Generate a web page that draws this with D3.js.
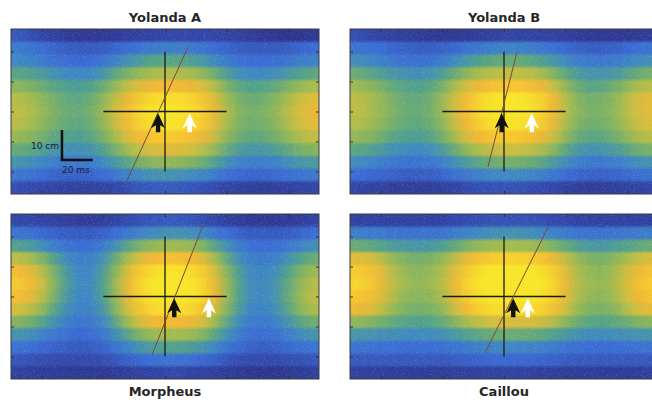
<!DOCTYPE html>
<html>
<head>
<meta charset="utf-8">
<script src="https://cdn.jsdelivr.net/npm/d3@7"></script>
<style>
body { margin: 0; background: #fff; }
svg { display: block; }
text { font-family: "DejaVu Sans", sans-serif; }
</style>
</head>
<body>
<svg id="chart"></svg>
<script>
// panel titles
let panelNames = ['Yolanda A', 'Yolanda B', 'Morpheus', 'Caillou']

// heat values (0 = low, 10 = peak), 13 position rows (top -> bottom) x 25 time bins (-100..100 ms)
let gridYolandaA = [
  [1.5,1.2,1,0.8,0.6,0.5,0.5,0.5,0.6,0.7,0.8,0.9,1,1,1,1,1,0.9,0.8,0.6,0.5,0.4,0.4,0.4,0.5],
  [2.5,2.3,2,1.8,1.6,1.5,1.5,1.6,1.8,2,2.3,2.5,2.6,2.6,2.5,2.3,2,1.8,1.6,1.5,1.5,1.5,1.6,1.8,2],
  [3,2.8,2.5,2.2,2,1.9,2,2.3,2.8,3.3,3.8,4.1,4.2,4.2,4,3.6,3,2.5,2.2,2,2,2.1,2.3,2.6,2.8],
  [4.2,4,3.7,3.3,3,2.9,3,3.5,4.3,5,5.6,6,6.2,6.2,6,5.5,4.7,3.8,3.2,3,3,3.2,3.6,4,4.3],
  [5.3,5,4.6,4.2,3.9,3.8,4,4.6,5.6,6.6,7.4,7.9,8.1,8.1,7.8,7.2,6.2,5,4.3,4,4.1,4.4,5,5.6,6],
  [6.3,6,5.4,4.8,4.4,4.3,4.6,5.4,6.6,7.8,8.8,9.4,9.6,9.6,9.3,8.6,7.3,5.8,4.9,4.6,4.7,5.2,6,6.8,7.3],
  [6.6,6.3,5.6,5,4.6,4.5,4.8,5.7,7,8.3,9.3,9.9,10,10,9.7,9,7.7,6.2,5.2,4.8,5,5.5,6.4,7.3,7.8],
  [6.4,6,5.4,4.8,4.4,4.3,4.6,5.5,6.8,8.1,9.1,9.7,9.9,9.8,9.5,8.8,7.5,6,5,4.7,4.8,5.3,6.2,7,7.5],
  [5.6,5.3,4.8,4.3,4,3.9,4.2,4.9,6,7.2,8.1,8.6,8.8,8.7,8.4,7.8,6.7,5.4,4.6,4.3,4.4,4.8,5.5,6.2,6.6],
  [4.5,4.3,3.9,3.5,3.3,3.2,3.4,4,4.9,5.9,6.7,7.2,7.4,7.3,7,6.4,5.5,4.5,3.8,3.5,3.6,3.9,4.4,4.9,5.2],
  [3.4,3.2,2.9,2.6,2.4,2.4,2.5,3,3.6,4.3,4.9,5.3,5.5,5.4,5.1,4.7,4,3.3,2.8,2.6,2.6,2.8,3.2,3.5,3.7],
  [2.3,2.2,2,1.8,1.7,1.7,1.8,2,2.4,2.8,3.1,3.3,3.4,3.3,3.1,2.9,2.5,2.1,1.9,1.8,1.8,1.9,2.1,2.3,2.4],
  [1.2,1.1,1,0.9,0.8,0.8,0.8,0.9,1,1.2,1.4,1.5,1.5,1.5,1.4,1.3,1.1,0.9,0.8,0.7,0.7,0.7,0.8,0.9,1]
]
let gridYolandaB = [
  [1.2,1,0.9,0.8,0.7,0.6,0.5,0.5,0.5,0.6,0.7,0.8,0.9,0.9,0.9,0.8,0.8,0.7,0.6,0.5,0.5,0.5,0.5,0.6,0.7],
  [2.2,2.1,2,1.8,1.7,1.6,1.6,1.7,1.9,2.2,2.4,2.6,2.7,2.7,2.6,2.4,2.1,1.9,1.7,1.6,1.6,1.7,1.9,2.1,2.2],
  [3.2,3,2.7,2.4,2.2,2.1,2.2,2.5,3,3.5,4,4.3,4.5,4.5,4.3,4,3.5,3,2.6,2.4,2.4,2.5,2.8,3.1,3.3],
  [4.6,4.3,3.9,3.5,3.3,3.2,3.3,3.8,4.6,5.4,6,6.4,6.6,6.6,6.4,6,5.2,4.3,3.7,3.4,3.4,3.6,4.1,4.6,4.9],
  [5.8,5.4,4.9,4.4,4.1,4,4.2,4.9,6,7.1,7.9,8.4,8.6,8.6,8.3,7.8,6.8,5.5,4.6,4.2,4.3,4.7,5.4,6.1,6.5],
  [6.5,6.1,5.5,4.9,4.5,4.4,4.7,5.6,6.9,8.2,9.2,9.8,10,10,9.7,9.1,7.9,6.3,5.2,4.8,4.9,5.4,6.3,7.1,7.5],
  [6.6,6.2,5.6,5,4.6,4.5,4.8,5.7,7,8.3,9.3,9.9,10,10,9.8,9.2,8,6.4,5.3,4.9,5,5.5,6.4,7.2,7.6],
  [6.3,5.9,5.3,4.8,4.4,4.3,4.6,5.4,6.7,8,9,9.6,9.8,9.8,9.5,8.9,7.7,6.1,5.1,4.7,4.8,5.3,6.1,6.9,7.3],
  [5.5,5.2,4.7,4.2,3.9,3.8,4.1,4.8,5.9,7.1,8,8.5,8.7,8.7,8.4,7.8,6.8,5.4,4.5,4.2,4.3,4.7,5.4,6.1,6.4],
  [4.3,4.1,3.7,3.3,3.1,3,3.2,3.7,4.6,5.5,6.2,6.6,6.8,6.8,6.6,6.1,5.3,4.3,3.6,3.3,3.4,3.7,4.2,4.7,5],
  [3.1,2.9,2.6,2.4,2.2,2.2,2.3,2.7,3.2,3.8,4.3,4.6,4.8,4.8,4.6,4.3,3.7,3.1,2.6,2.4,2.4,2.6,2.9,3.2,3.4],
  [2,1.9,1.8,1.7,1.6,1.6,1.6,1.8,2.1,2.4,2.7,2.9,3,3,2.9,2.7,2.3,2,1.8,1.7,1.7,1.8,1.9,2.1,2.2],
  [1,0.9,0.8,0.7,0.7,0.7,0.7,0.8,0.9,1.1,1.2,1.3,1.3,1.3,1.2,1.1,1,0.8,0.7,0.7,0.7,0.7,0.8,0.9,1]
]
let gridMorpheus = [
  [1,1,0.9,0.8,0.7,0.6,0.6,0.7,0.9,1.1,1.3,1.4,1.5,1.5,1.4,1.2,1,0.8,0.6,0.5,0.5,0.5,0.6,0.7,0.9],
  [2.2,2.1,1.9,1.7,1.6,1.5,1.5,1.7,2,2.4,2.8,3.1,3.3,3.3,3.2,2.9,2.4,2,1.7,1.5,1.5,1.5,1.6,1.8,2],
  [4,3.7,3.2,2.6,2.2,2,2.1,2.5,3.3,4.2,5,5.5,5.8,5.8,5.6,5.1,4.2,3.2,2.5,2.1,2,2.1,2.4,2.8,3.2],
  [6.5,6,5.1,4,3.1,2.6,2.7,3.3,4.6,6,7.2,8,8.4,8.4,8.1,7.4,6,4.4,3.2,2.6,2.5,2.7,3.3,4,4.6],
  [8.2,7.6,6.4,4.9,3.6,2.9,3,3.8,5.4,7.2,8.7,9.5,9.9,9.9,9.6,8.8,7.2,5.3,3.8,3,2.9,3.2,4,5,5.7],
  [8.8,8.2,6.9,5.2,3.8,3,3.1,4,5.8,7.8,9.2,10,10,10,10,9.4,7.8,5.7,4,3.1,3,3.4,4.4,5.5,6.3],
  [8.3,7.7,6.5,4.9,3.6,2.9,3,3.9,5.7,7.6,9.1,9.9,10,10,10,9.4,7.8,5.7,4,3.1,3,3.4,4.5,5.7,6.5],
  [7,6.5,5.5,4.2,3.2,2.7,2.8,3.6,5.2,7,8.5,9.3,9.6,9.6,9.3,8.6,7.1,5.2,3.7,2.9,2.8,3.2,4.2,5.3,6],
  [5.2,4.8,4.1,3.3,2.6,2.3,2.4,3,4.3,5.8,7.1,7.8,8.1,8.1,7.8,7.1,5.8,4.3,3.1,2.5,2.4,2.7,3.4,4.2,4.7],
  [3.4,3.2,2.8,2.4,2.1,1.9,2,2.4,3.2,4.2,5.1,5.7,5.9,5.9,5.7,5.2,4.3,3.3,2.5,2.1,2,2.2,2.6,3.1,3.4],
  [2.2,2.1,1.9,1.7,1.6,1.5,1.6,1.8,2.2,2.8,3.4,3.8,4,4,3.8,3.5,2.9,2.3,1.9,1.7,1.6,1.7,1.9,2.1,2.3],
  [1.4,1.3,1.2,1.1,1.1,1.1,1.1,1.2,1.4,1.7,1.9,2.1,2.2,2.2,2.1,1.9,1.7,1.4,1.2,1.1,1.1,1.1,1.2,1.3,1.4],
  [0.8,0.7,0.6,0.6,0.5,0.5,0.5,0.5,0.6,0.7,0.8,0.9,1,1,0.9,0.8,0.7,0.6,0.5,0.4,0.4,0.4,0.5,0.6,0.7]
]
let gridCaillou = [
  [0.8,0.8,0.8,0.8,0.8,0.8,0.8,0.9,1,1.1,1.2,1.3,1.3,1.3,1.3,1.2,1.1,1,0.9,0.8,0.8,0.8,0.8,0.8,0.8],
  [2.6,2.5,2.4,2.3,2.2,2.2,2.2,2.3,2.5,2.8,3,3.2,3.3,3.3,3.2,3,2.8,2.5,2.3,2.2,2.2,2.3,2.4,2.5,2.6],
  [4.6,4.4,4.1,3.8,3.6,3.5,3.6,3.9,4.4,5,5.5,5.8,5.9,5.9,5.8,5.5,5,4.4,3.9,3.6,3.6,3.8,4.1,4.4,4.6],
  [7.5,7.2,6.4,5.5,5,4.8,4.9,5.5,6.5,7.6,8.4,8.8,9,9,8.9,8.6,7.8,6.6,5.5,5,4.9,5.3,6,6.8,7.3],
  [8.8,8.5,7.5,6.3,5.6,5.3,5.5,6.2,7.5,8.8,9.6,10,10,10,10,9.7,8.9,7.4,6.1,5.5,5.4,5.9,6.9,7.9,8.5],
  [9.2,8.8,7.8,6.5,5.8,5.5,5.7,6.4,7.8,9.1,9.9,10,10,10,10,10,9.2,7.7,6.3,5.7,5.6,6.1,7.2,8.3,8.9],
  [8.7,8.3,7.4,6.2,5.5,5.3,5.4,6.1,7.5,8.8,9.7,10,10,10,10,9.8,9,7.5,6.1,5.5,5.4,5.9,7,8,8.6],
  [7.8,7.4,6.6,5.6,5,4.8,4.9,5.5,6.8,8.1,9,9.5,9.6,9.6,9.5,9.2,8.3,6.9,5.6,5,4.9,5.3,6.3,7.2,7.7],
  [5.4,5.2,4.8,4.4,4.1,4,4.1,4.5,5.2,6,6.6,7,7.2,7.2,7.1,6.8,6.2,5.3,4.6,4.2,4.1,4.3,4.7,5.1,5.3],
  [3.5,3.4,3.3,3.2,3.1,3.1,3.1,3.3,3.6,4,4.3,4.5,4.6,4.6,4.5,4.3,4,3.6,3.3,3.1,3.1,3.2,3.3,3.4,3.5],
  [2.2,2.2,2.1,2.1,2,2,2,2.1,2.3,2.5,2.7,2.8,2.9,2.9,2.8,2.7,2.5,2.3,2.1,2,2,2,2.1,2.2,2.2],
  [1.5,1.5,1.5,1.5,1.5,1.5,1.5,1.5,1.6,1.7,1.8,1.9,1.9,1.9,1.9,1.8,1.7,1.6,1.5,1.5,1.5,1.5,1.5,1.5,1.5],
  [0.8,0.7,0.7,0.6,0.6,0.6,0.6,0.6,0.7,0.7,0.8,0.8,0.8,0.8,0.8,0.7,0.7,0.6,0.6,0.6,0.6,0.6,0.6,0.7,0.8]
]
let grids = [gridYolandaA, gridYolandaB, gridMorpheus, gridCaillou]

// overlay marks, in ms / cm
let crossHalfMs = 40
let crossHalfCm = 20
let blackArrowMs = [-4.5, -1.5, 6, 6]
let whiteArrowMs = [16, 18, 28.5, 15.5]
let arrowCm = -0.6
let slopeStart = [[-24.7, -23], [-10.4, -18.5], [-8.4, -19.5], [-12.3, -18.7]]
let slopeEnd = [[15, 21.5], [8.4, 19.8], [24.7, 23.8], [28.6, 23]]

// axes
let timeDomain = [-100, 100]
let posDomain = [-27.5, 27.5]
let xTicks = [-80, -40, 0, 40, 80]
let yTicks = [-20, -10, 0, 10, 20]

// scale bar (first panel only)
let barOrigin = [-66.9, -16.2]
let barMs = 20
let barCm = 10

// colour map stops (parula-like, a bit washed out like the print)
let colorStops = [0, 1, 2, 3, 4, 5, 6, 7, 8, 9, 10]
let colorHexes = ['#2a2c7e', '#3246a8', '#3a6cd4', '#3e88c2', '#50a08c', '#7cb163',
                  '#a6bb4c', '#d2bd3d', '#f1b634', '#f6cf2c', '#f8e528']

// layout
let width = 652
let height = 403
let panelW = 308
let panelH = 165
let panelLeft = [11, 350, 11, 350]
let panelTop = [29, 29, 214, 214]
let titleY = [22, 22, 396, 396]

let svg = d3.select('#chart').attr('width', width).attr('height', height)

let color = d3.scaleLinear().domain(colorStops).range(colorHexes).clamp(true)

let defs = svg.append('defs')
let filter = defs.append('filter')
    .attr('id', 'smear')
    .attr('x', '-5%').attr('y', '-5%')
    .attr('width', '110%').attr('height', '110%')
    .attr('color-interpolation-filters', 'sRGB')
filter.append('feGaussianBlur').attr('stdDeviation', '5 1')
filter.append('feComponentTransfer').attr('result', 'smooth')
    .append('feFuncA').attr('type', 'table').attr('tableValues', '1 1')
// faint print grain
filter.append('feTurbulence')
    .attr('type', 'fractalNoise').attr('baseFrequency', 0.9)
    .attr('numOctaves', 1).attr('seed', 4).attr('result', 'noise')
filter.append('feColorMatrix')
    .attr('in', 'noise').attr('type', 'matrix')
    .attr('values', '0 0 0 0 1  0 0 0 0 1  0 0 0 0 1  0.5 0 0 0 -0.26')
    .attr('result', 'speck')
let merge = filter.append('feMerge')
merge.append('feMergeNode').attr('in', 'smooth')
merge.append('feMergeNode').attr('in', 'speck')

let arrowPath = 'M0,0 L7,15 L2.2,12 L2.2,19 L-2.2,19 L-2.2,12 L-7,15 Z'

grids.forEach((grid, p) => {
    let x0 = panelLeft[p]
    let y0 = panelTop[p]

    let x = d3.scaleLinear().domain(timeDomain).range([x0, x0 + panelW])
    let y = d3.scaleLinear().domain(posDomain).range([y0 + panelH, y0])

    let colBand = d3.scaleBand().domain(d3.range(grid[0].length)).range([x0, x0 + panelW])
    let rowBand = d3.scaleBand().domain(d3.range(grid.length)).range([y0, y0 + panelH])

    defs.append('clipPath').attr('id', 'clip' + p)
        .append('rect')
        .attr('x', x0).attr('y', y0)
        .attr('width', panelW).attr('height', panelH)

    let cells = []
    grid.forEach((row, r) => row.forEach((v, c) => cells.push({ r: r, c: c, v: v })))

    let panel = svg.append('g')

    panel.append('g')
        .attr('clip-path', 'url(#clip' + p + ')')
        .append('g')
        .attr('filter', 'url(#smear)')
        .selectAll('rect')
        .data(cells)
        .enter()
        .append('rect')
        .attr('x', d => colBand(d.c))
        .attr('y', d => rowBand(d.r))
        .attr('width', colBand.bandwidth() + 0.6)
        .attr('height', rowBand.bandwidth() + 0.6)
        .attr('fill', d => color(d.v))

    // crosshair
    panel.append('line')
        .attr('x1', x(-crossHalfMs)).attr('x2', x(crossHalfMs))
        .attr('y1', y(0)).attr('y2', y(0))
        .attr('stroke', '#1a1a1a').attr('stroke-width', 1.3)
    panel.append('line')
        .attr('x1', x(0)).attr('x2', x(0))
        .attr('y1', y(-crossHalfCm)).attr('y2', y(crossHalfCm))
        .attr('stroke', '#1a1a1a').attr('stroke-width', 1.3)

    // slope line
    panel.append('line')
        .attr('x1', x(slopeStart[p][0])).attr('y1', y(slopeStart[p][1]))
        .attr('x2', x(slopeEnd[p][0])).attr('y2', y(slopeEnd[p][1]))
        .attr('stroke', '#7a4a3a').attr('stroke-width', 1)

    // arrows
    panel.append('path')
        .attr('d', arrowPath)
        .attr('transform', 'translate(' + x(blackArrowMs[p]) + ',' + y(arrowCm) + ')')
        .attr('fill', '#111')
    panel.append('path')
        .attr('d', arrowPath)
        .attr('transform', 'translate(' + x(whiteArrowMs[p]) + ',' + y(arrowCm) + ')')
        .attr('fill', '#fff')

    // inward ticks on all sides
    let clean = g => g.select('.domain').remove()
    panel.append('g').attr('transform', 'translate(' + x0 + ',0)')
        .call(d3.axisLeft(y).tickValues(yTicks).tickSize(-3).tickFormat('')).call(clean)
    panel.append('g').attr('transform', 'translate(' + (x0 + panelW) + ',0)')
        .call(d3.axisRight(y).tickValues(yTicks).tickSize(-3).tickFormat('')).call(clean)
    panel.append('g').attr('transform', 'translate(0,' + y0 + ')')
        .call(d3.axisTop(x).tickValues(xTicks).tickSize(-3).tickFormat('')).call(clean)
    panel.append('g').attr('transform', 'translate(0,' + (y0 + panelH) + ')')
        .call(d3.axisBottom(x).tickValues(xTicks).tickSize(-3).tickFormat('')).call(clean)
    panel.selectAll('.tick line').attr('stroke', '#333')

    panel.append('rect')
        .attr('x', x0).attr('y', y0)
        .attr('width', panelW).attr('height', panelH)
        .attr('fill', 'none').attr('stroke', '#3a3a44').attr('stroke-width', 1)

    panel.append('text')
        .attr('x', x(0)).attr('y', titleY[p])
        .attr('text-anchor', 'middle')
        .attr('font-size', 13).attr('font-weight', 'bold')
        .attr('fill', '#262626')
        .text(panelNames[p])

    if (p === 0) {
        let bx = x(barOrigin[0])
        let by = y(barOrigin[1])
        panel.append('path')
            .attr('d', 'M' + bx + ',' + y(barOrigin[1] + barCm) + 'V' + by + 'H' + x(barOrigin[0] + barMs))
            .attr('fill', 'none').attr('stroke', '#111').attr('stroke-width', 2.5)
        panel.append('text')
            .attr('x', bx - 3).attr('y', y(barOrigin[1] + barCm / 2) + 4)
            .attr('text-anchor', 'end').attr('font-size', 9).attr('fill', '#1c2238')
            .text('10 cm')
        panel.append('text')
            .attr('x', bx).attr('y', by + 13)
            .attr('font-size', 9).attr('fill', '#1c2238')
            .text('20 ms')
    }
})
</script>
</body>
</html>
